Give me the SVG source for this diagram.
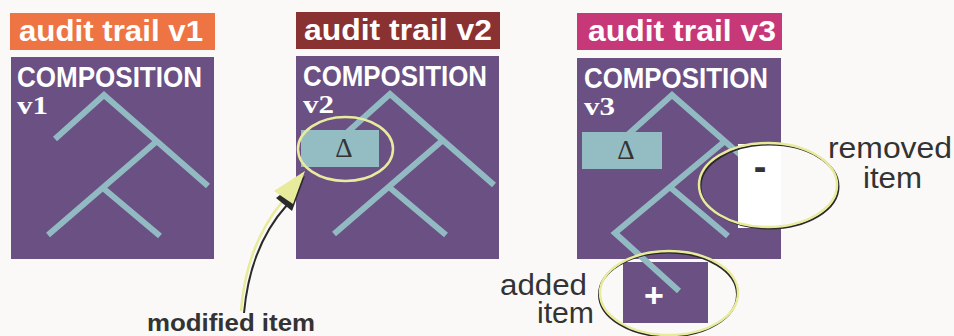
<svg xmlns="http://www.w3.org/2000/svg" width="954" height="336" viewBox="0 0 954 336">
<style>
.title{font-family:"Liberation Sans",Arial,sans-serif;font-weight:bold;font-size:30px;fill:#ffffff}
.comp{font-family:"Liberation Sans",Arial,sans-serif;font-weight:bold;font-size:29px;fill:#ffffff}
.ver{font-family:"Liberation Serif","Times New Roman",serif;font-weight:bold;font-size:26px;fill:#ffffff}
.box{fill:#6a5083}
.tree{stroke:#92bac2;stroke-width:6;fill:none;stroke-linecap:butt;stroke-linejoin:miter}
.mod{fill:#94bcc3}
.delta{font-family:"Liberation Serif","Times New Roman",serif;font-size:27px;fill:#333333;text-anchor:middle}
.lbl{font-family:"Liberation Sans",Arial,sans-serif;font-size:30px;fill:#333333}
.ring{fill:none;stroke:#e8ea9c;stroke-width:2.5}
.shadow{fill:none;stroke:#2a2a2a;stroke-width:2}
</style>
<rect width="954" height="336" fill="#faf9f7"/>

<g id="v1">
<rect x="10" y="13" width="205" height="37" fill="#ee7444"/>
<text class="title" x="19" y="41" textLength="184" lengthAdjust="spacingAndGlyphs">audit trail v1</text>
<rect class="box" x="11" y="57" width="203" height="202"/>
<text class="comp" x="17" y="87" textLength="185" lengthAdjust="spacingAndGlyphs">COMPOSITION</text>
<text class="ver" x="17" y="114" textLength="31" lengthAdjust="spacingAndGlyphs">v1</text>
<path class="tree" d="M55,139 L104,95 L208,186 M157,141 L48,235 M103,188 L160,236"/>
</g>

<g id="v2">
<rect x="296" y="12" width="204" height="37" fill="#8a3232"/>
<text class="title" x="304" y="40" textLength="188" lengthAdjust="spacingAndGlyphs">audit trail v2</text>
<rect class="box" x="296" y="56" width="203" height="203"/>
<text class="comp" x="303" y="86" textLength="184" lengthAdjust="spacingAndGlyphs">COMPOSITION</text>
<text class="ver" x="303" y="113" textLength="31" lengthAdjust="spacingAndGlyphs">v2</text>
<path class="tree" d="M341,138 L390,94 L494,185 M443,140 L334,234 M389,187 L446,235"/>
<rect class="mod" x="301" y="130" width="78" height="37"/>
<text class="delta" x="344" y="157">Δ</text>
<ellipse class="ring" cx="345.5" cy="149" rx="47.5" ry="32"/>
</g>

<g id="v3">
<rect x="577" y="13" width="205" height="37" fill="#c73878"/>
<text class="title" x="588" y="41" textLength="188" lengthAdjust="spacingAndGlyphs">audit trail v3</text>
<rect class="box" x="577" y="58" width="204" height="201"/>
<text class="comp" x="584" y="88" textLength="184" lengthAdjust="spacingAndGlyphs">COMPOSITION</text>
<text class="ver" x="584" y="115" textLength="31" lengthAdjust="spacingAndGlyphs">v3</text>
<rect class="box" x="623" y="262" width="85" height="61"/>
<path class="tree" d="M623,139 L672,95 L776,186 M725,141 L615,233 L679,291 M671,188 L728,236"/>
<rect class="mod" x="582" y="132" width="80" height="37"/>
<text class="delta" x="626" y="159">Δ</text>
</g>

<g id="removed">
<rect x="738" y="144" width="43" height="84" fill="#ffffff"/>
<text x="760" y="180" font-family="Liberation Sans,Arial,sans-serif" font-weight="bold" font-size="38" fill="#333333" text-anchor="middle">-</text>
<ellipse class="shadow" cx="769.5" cy="186.5" rx="69" ry="42"/>
<ellipse class="ring" cx="768" cy="185" rx="69" ry="42"/>
<text class="lbl" x="828" y="158" textLength="124" lengthAdjust="spacingAndGlyphs">removed</text>
<text class="lbl" x="863" y="188" textLength="59" lengthAdjust="spacingAndGlyphs">item</text>
</g>

<g id="added">
<text x="654" y="307" font-family="Liberation Sans,Arial,sans-serif" font-weight="bold" font-size="34" fill="#ffffff" text-anchor="middle">+</text>
<ellipse class="shadow" cx="668" cy="294.5" rx="69" ry="42"/>
<ellipse class="ring" cx="669" cy="293" rx="69" ry="42"/>
<text class="lbl" x="500" y="295" textLength="87" lengthAdjust="spacingAndGlyphs">added</text>
<text class="lbl" x="537" y="323" textLength="57" lengthAdjust="spacingAndGlyphs">item</text>
</g>

<g id="connectors">
<path d="M244,313 Q250,246 287,205" fill="none" stroke="#2a2a2a" stroke-width="2"/>
<path d="M241,311 Q246,246 282,202" fill="none" stroke="#e8ea9c" stroke-width="2.5"/>
<polygon points="305,176 276,198 292,211" fill="#2a2a2a"/>
<polygon points="305,171 274,191 293,204" fill="#e8ea9c"/>
</g>

<g id="modified">
<text x="147" y="331" font-family="Liberation Sans,Arial,sans-serif" font-weight="bold" font-size="24" fill="#333333" textLength="168" lengthAdjust="spacingAndGlyphs">modified item</text>
</g>
</svg>
